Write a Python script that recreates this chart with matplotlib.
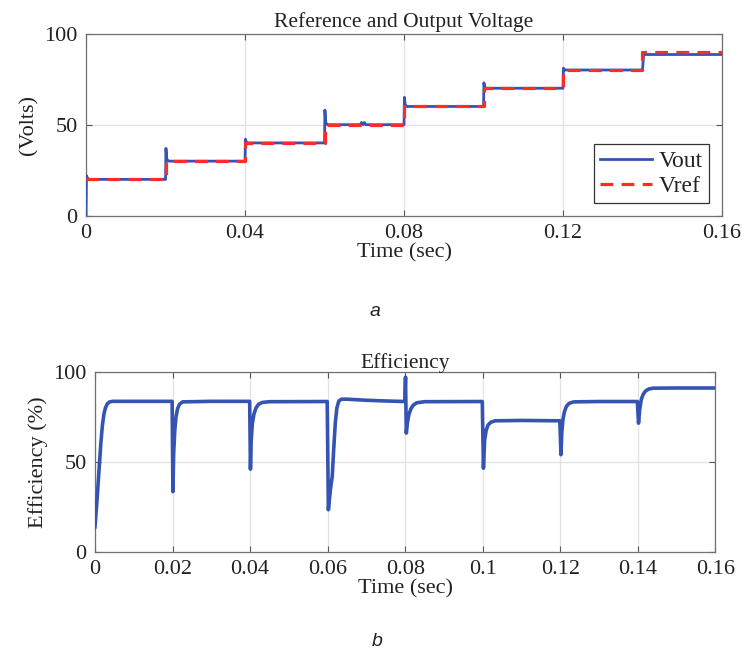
import matplotlib
matplotlib.use("Agg")
import matplotlib.pyplot as plt

plt.rcParams['font.family'] = ['Liberation Serif', 'DejaVu Serif']

# ---- Data: top plot (Reference and Output Voltage) ----
vout_t = [0.0, 0.0001, 0.0004, 0.0008,
          0.0200, 0.0201, 0.0203, 0.0208,
          0.0400, 0.0401, 0.0403, 0.0407,
          0.0600, 0.0601, 0.0603, 0.0608,
          0.0690, 0.0693, 0.0697, 0.0700, 0.0704, 0.0708,
          0.0800, 0.0801, 0.0803, 0.0807,
          0.1000, 0.1001, 0.1003, 0.1007,
          0.1200, 0.1201, 0.1205,
          0.1400, 0.1403, 0.1408, 0.1600]
vout_v = [0.0, 22.0, 20.5, 20.0,
          20.0, 37.0, 31.0, 30.0,
          30.0, 42.0, 40.5, 40.0,
          40.0, 58.0, 51.0, 50.0,
          50.0, 51.2, 50.0, 51.2, 50.0, 50.0,
          50.0, 65.0, 61.0, 60.0,
          60.0, 73.0, 70.5, 70.0,
          70.0, 81.0, 80.0,
          80.0, 88.5, 88.5, 88.5]

vref_t = [0.0, 0.02, 0.04, 0.06, 0.08, 0.10, 0.12, 0.14, 0.16]
vref_v = [20, 30, 40, 50, 60, 70, 80, 90, 90]

# ---- Data: bottom plot (Efficiency) ----
eff_t = [0.0, 0.0005, 0.0010, 0.0015, 0.0019, 0.0023, 0.0027, 0.0032, 0.0038, 0.0046, 0.0100, 0.0199,
         0.0201, 0.0203, 0.0206, 0.0209, 0.0213, 0.0218, 0.0226, 0.0300, 0.0399,
         0.0401, 0.0403, 0.0406, 0.0410, 0.0415, 0.0422, 0.0432, 0.0450, 0.0599,
         0.0602, 0.0608, 0.0612, 0.0616, 0.0620, 0.0624, 0.0629, 0.0636, 0.0650, 0.0700, 0.0750, 0.0799,
         0.0801, 0.0803, 0.0806, 0.0810, 0.0815, 0.0821, 0.0830, 0.0850, 0.0999,
         0.1002, 0.1005, 0.1009, 0.1014, 0.1021, 0.1032, 0.1100, 0.1199,
         0.1202, 0.1204, 0.1207, 0.1211, 0.1216, 0.1223, 0.1235, 0.1300, 0.1399,
         0.1402, 0.1405, 0.1409, 0.1414, 0.1420, 0.1428, 0.1440, 0.1500, 0.1600]
eff_v = [14.0, 28.0, 44.0, 60.0, 70.0, 76.5, 80.0, 82.3, 83.3, 83.6, 83.6, 83.6,
         33.5, 55.0, 68.0, 75.0, 79.5, 82.0, 83.3, 83.6, 83.6,
         46.0, 62.0, 71.5, 76.5, 79.8, 82.0, 83.0, 83.4, 83.5,
         23.5, 36.0, 42.0, 58.0, 72.0, 80.0, 83.8, 84.8, 84.8, 84.2, 83.8, 83.5,
         97.0, 66.0, 72.0, 76.5, 79.5, 81.5, 82.8, 83.4, 83.5,
         46.5, 62.0, 67.5, 70.5, 72.0, 72.8, 73.0, 72.8,
         54.0, 66.0, 73.5, 78.0, 80.8, 82.5, 83.3, 83.5, 83.5,
         71.5, 79.0, 84.5, 87.5, 89.3, 90.4, 90.9, 91.0, 91.0]

top_xticks = [0, 0.04, 0.08, 0.12, 0.16]
top_xticklabels = ['0', '0.04', '0.08', '0.12', '0.16']
bot_xticks = [0, 0.02, 0.04, 0.06, 0.08, 0.10, 0.12, 0.14, 0.16]
bot_xticklabels = ['0', '0.02', '0.04', '0.06', '0.08', '0.1', '0.12', '0.14', '0.16']
yticks = [0, 50, 100]

BLUE = '#3553b3'
RED = '#ff2a2a'
FS = 16

fig = plt.figure(figsize=(7.42, 6.58), dpi=100)
ax1 = fig.add_axes([0.116, 0.672, 0.857, 0.277])
ax2 = fig.add_axes([0.128, 0.161, 0.836, 0.274])


def style(ax):
    for s in ax.spines.values():
        s.set_color('#707070')
        s.set_linewidth(0.9)
    ax.tick_params(direction='in', length=4, width=0.8, color='#555555',
                   top=True, right=True, labelsize=FS, pad=6, labelcolor='#222222')
    ax.grid(True, color='#e2e2e2', linewidth=0.9)
    ax.set_axisbelow(True)


ax1.plot(vout_t, vout_v, color=BLUE, lw=2.0, label='Vout', zorder=3)
ax1.plot(vref_t, vref_v, color=RED, lw=2.3, ls=(0, (4.0, 2.6)),
         drawstyle='steps-post', label='Vref', zorder=4)
ax1.set_xlim(0, 0.16)
ax1.set_ylim(0, 100)
ax1.set_xticks(top_xticks)
ax1.set_xticklabels(top_xticklabels)
ax1.set_yticks(yticks)
style(ax1)
ax1.set_title('Reference and Output Voltage', fontsize=15.5, pad=5, color='#222222')
ax1.set_xlabel('Time (sec)', fontsize=FS, labelpad=0, color='#222222')
ax1.set_ylabel('(Volts)', fontsize=FS, labelpad=4, color='#222222')
leg = ax1.legend(loc='lower right', fontsize=FS + 1, fancybox=False, framealpha=1,
                 edgecolor='#333333', handlelength=2.2, borderpad=0.25,
                 labelspacing=0.15, handletextpad=0.3, borderaxespad=0.55)
leg.get_frame().set_linewidth(0.9)
for t in leg.get_texts():
    t.set_color('#222222')

ax2.plot(eff_t, eff_v, color=BLUE, lw=2.6, zorder=3, solid_joinstyle='round')
ax2.set_xlim(0, 0.16)
ax2.set_ylim(0, 100)
ax2.set_xticks(bot_xticks)
ax2.set_xticklabels(bot_xticklabels)
ax2.set_yticks(yticks)
style(ax2)
ax2.set_title('Efficiency', fontsize=15.5, pad=3, color='#222222')
ax2.set_xlabel('Time (sec)', fontsize=FS, labelpad=0, color='#222222')
ax2.set_ylabel('Efficiency (%)', fontsize=FS, labelpad=4, color='#222222')

fig.text(375 / 742, 1 - 311 / 658, 'a', fontsize=14, style='italic',
         family='Liberation Sans', ha='center', va='center', color='#222222')
fig.text(377 / 742, 1 - 641 / 658, 'b', fontsize=14, style='italic',
         family='Liberation Sans', ha='center', va='center', color='#222222')

fig.savefig('out.png', dpi=100)
